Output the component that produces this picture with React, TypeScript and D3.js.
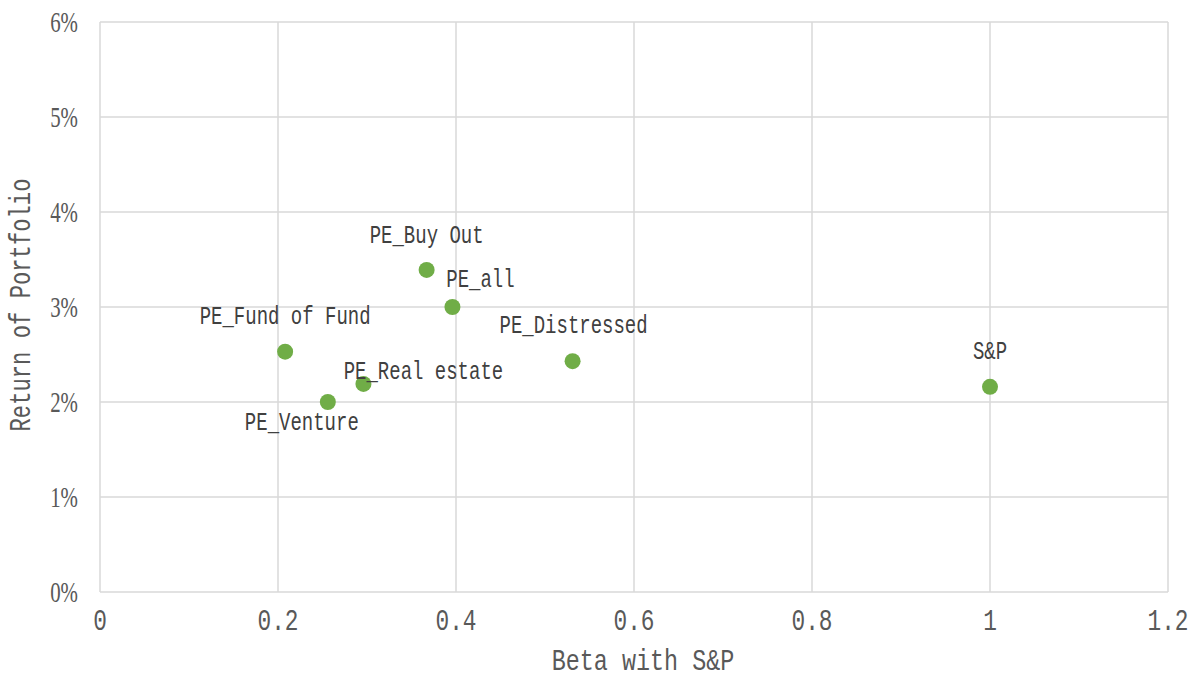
import React from "react";
import * as d3 from "d3";

const names = ["PE_Buy Out", "PE_all", "PE_Fund of Fund", "PE_Real estate", "PE_Venture", "PE_Distressed", "S&P"];
const betas = [0.367, 0.396, 0.208, 0.296, 0.256, 0.531, 1.0];
const returns = [0.0339, 0.030, 0.0253, 0.0219, 0.020, 0.0243, 0.0216];
const xTicks = [0, 0.2, 0.4, 0.6, 0.8, 1, 1.2];
const yTicks = [0, 0.01, 0.02, 0.03, 0.04, 0.05, 0.06];

// label placement offsets (layout only)
const labelOffsets: [number, number][] = [
  [0, -33], [28, -26], [0, -34], [60, -11], [-26, 22], [1, -34], [0, -34],
];

const W = 1202, H = 679;
const left = 100, right = 1168, top = 22, bottom = 592;
const textColor = "#595959";
const gridColor = "#d9d9d9";
const mono = "'Liberation Mono', 'DejaVu Sans Mono', monospace";
const serif = "'Liberation Serif', 'DejaVu Serif', serif";

type TProps = {
  x: number; y: number; sx: number; size: number; family: string; fill: string;
  anchor?: string; rotate?: number; children: React.ReactNode;
};
function T({ x, y, sx, size, family, fill, anchor = "middle", rotate = 0, children }: TProps) {
  return (
    <text transform={`translate(${x},${y}) rotate(${rotate}) scale(${sx},1)`} textAnchor={anchor}
      dominantBaseline="central" fill={fill} fontFamily={family} fontSize={size}>{children}</text>
  );
}

export default function App() {
  const x = d3.scaleLinear().domain([0, 1.2]).range([left, right]);
  const y = d3.scaleLinear().domain([0, 0.06]).range([bottom, top]);
  const xFmt = (v: number) => (v === 0 ? "0" : v === 1 ? "1" : d3.format(".1f")(v));
  const yFmt = d3.format(".0%");
  return (
    <svg width={W} height={H} style={{ position: "absolute", left: 0, top: 0, background: "#fff" }}>
      <rect x={0} y={0} width={W} height={H} fill="#fff" />
      {yTicks.map((t) => (
        <line key={"gy" + t} x1={left} x2={right} y1={y(t)} y2={y(t)} stroke={gridColor} strokeWidth={1.5} />
      ))}
      {xTicks.map((t) => (
        <line key={"gx" + t} x1={x(t)} x2={x(t)} y1={top} y2={bottom} stroke={gridColor} strokeWidth={1.5} />
      ))}
      {yTicks.map((t) => (
        <T key={"ty" + t} x={left - 22} y={y(t)} sx={0.72} size={29} family={serif} fill={textColor} anchor="end">{yFmt(t)}</T>
      ))}
      {xTicks.map((t) => (
        <T key={"tx" + t} x={x(t)} y={622} sx={0.76} size={30} family={mono} fill={textColor}>{xFmt(t)}</T>
      ))}
      <T x={643} y={662} sx={0.78} size={30} family={mono} fill={textColor}>Beta with S&amp;P</T>
      <T x={22} y={305} sx={0.74} size={30} family={mono} fill={textColor} rotate={-90}>Return of Portfolio</T>
      {names.map((n, i) => (
        <circle key={"p" + n} cx={x(betas[i])} cy={y(returns[i])} r={8} fill="#70ad47" />
      ))}
      {names.map((n, i) => (
        <T key={"l" + n} x={x(betas[i]) + labelOffsets[i][0]} y={y(returns[i]) + labelOffsets[i][1]}
          sx={0.76} size={25} family={mono} fill="#404040">{n}</T>
      ))}
    </svg>
  );
}
